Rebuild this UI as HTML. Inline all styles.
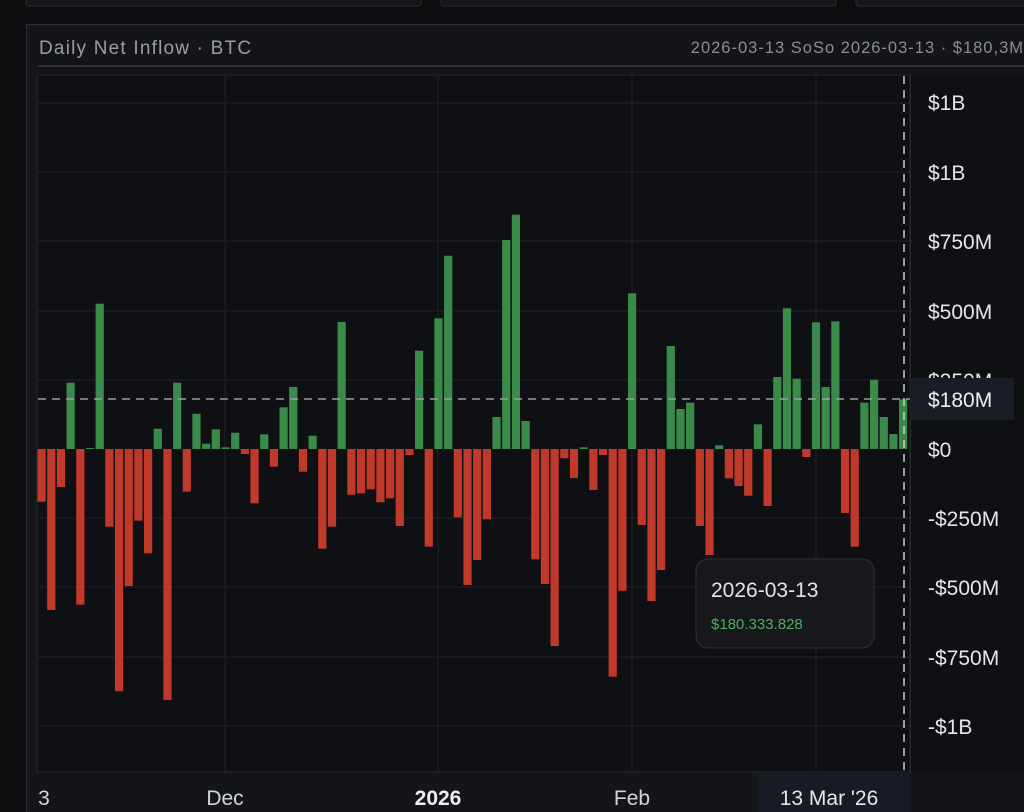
<!DOCTYPE html>
<html><head><meta charset="utf-8"><style>
html,body{margin:0;padding:0;background:#0c0d0f;width:1024px;height:812px;overflow:hidden;font-family:"Liberation Sans",sans-serif}
</style></head><body>
<svg width="1024" height="812" xmlns="http://www.w3.org/2000/svg" font-family="Liberation Sans, sans-serif">
<rect width="1024" height="812" fill="#0c0d0f"/>
<rect x="26" y="-10" width="395" height="16" rx="3" fill="#141619" stroke="#2a2d31"/>
<rect x="441" y="-10" width="395" height="16" rx="3" fill="#141619" stroke="#2a2d31"/>
<rect x="856" y="-10" width="190" height="16" rx="3" fill="#141619" stroke="#2a2d31"/>
<rect x="26.5" y="24.5" width="1010" height="800" fill="#131518" stroke="#2c2f33"/>
<text x="39" y="54" fill="#9a9ea4" font-size="19" letter-spacing="1.2">Daily Net Inflow · BTC</text>
<text x="1024" y="53" fill="#8a8e94" font-size="16.5" letter-spacing="1" text-anchor="end">2026-03-13  SoSo 2026-03-13 · $180,3M</text>
<line x1="38" y1="66" x2="1024" y2="66" stroke="#2c2f33" stroke-width="2"/>
<rect x="37" y="75" width="874" height="697" fill="#0f1013" stroke="#24272b"/>
<rect x="911" y="75" width="113" height="697" fill="#0f1013"/>
<g stroke="#1f2226" stroke-width="1">
<line x1="38" y1="103" x2="910" y2="103"/><line x1="38" y1="172" x2="910" y2="172"/><line x1="38" y1="241" x2="910" y2="241"/><line x1="38" y1="311" x2="910" y2="311"/><line x1="38" y1="380" x2="910" y2="380"/><line x1="38" y1="518" x2="910" y2="518"/><line x1="38" y1="587" x2="910" y2="587"/><line x1="38" y1="657" x2="910" y2="657"/><line x1="38" y1="726" x2="910" y2="726"/>
<line x1="225" y1="76" x2="225" y2="771"/><line x1="438" y1="76" x2="438" y2="771"/><line x1="632" y1="76" x2="632" y2="771"/><line x1="816" y1="76" x2="816" y2="771"/>
</g>
<line x1="910" y1="75" x2="910" y2="772" stroke="#2a2d31"/>
<g id="bars"></g>
<line x1="38" y1="399" x2="910" y2="399" stroke="#9a9ea4" stroke-width="1.5" stroke-dasharray="8,6"/>
<line x1="904" y1="76" x2="904" y2="771" stroke="#c8cbd0" stroke-width="1.5" stroke-dasharray="8,6"/>
<g fill="#e4e6e9" font-size="21">
<text x="928" y="110">$1B</text><text x="928" y="180">$1B</text><text x="928" y="249">$750M</text><text x="928" y="319">$500M</text><text x="928" y="388">$250M</text><text x="928" y="457">$0</text><text x="928" y="526">-$250M</text><text x="928" y="595">-$500M</text><text x="928" y="665">-$750M</text><text x="928" y="734">-$1B</text>
</g>
<rect x="910" y="378" width="104" height="42" fill="#1a1d26"/>
<text x="928" y="407" fill="#eef0f2" font-size="21">$180M</text>
<rect x="696" y="559" width="178" height="89" rx="12" fill="#16181b" stroke="#2e3136"/>
<text x="711" y="597" fill="#e2e4e7" font-size="21">2026-03-13</text>
<text x="711" y="629" fill="#4caf5c" font-size="15">$180.333.828</text>
<rect x="758" y="772" width="152" height="40" fill="#181b24"/>
<g fill="#d2d5d9" font-size="21" text-anchor="middle">
<text x="44" y="805">3</text><text x="225" y="805">Dec</text><text x="438" y="805" font-weight="bold" fill="#eceef0">2026</text><text x="632" y="805">Feb</text><text x="829" y="805" fill="#e4e6e9">13 Mar '26</text>
</g>
</svg>
<script>
var v=[501.7,610,487,382.7,604.7,448,303.7,526.7,691.3,586,520.7,553.3,428.7,700,382.7,491.7,413.7,443.7,429.3,447.3,432.7,454,503.3,434.3,466.7,407.3,387,471.7,435.7,548.7,526.7,322,494.7,493.3,489.3,502.3,498.3,526,455,350.7,546.7,318.3,255.7,517.3,585,560,519.3,417,240,214.7,421,559.3,584,646,458.3,478,447.3,490,455,676.7,590.7,293.3,525,601,570,346,409,402.7,526,555,445.3,478.3,486,495.7,424.3,506,377,308.3,378.7,457,322.3,387,321.3,513,546.7,402.7,379.7,417,434,399.3];
var g=document.getElementById('bars'),s='',Z=449;
for(var i=0;i<v.length;i++){var x=37.5+i*9.68,y=v[i];if(y<Z){s+='<rect x="'+x+'" y="'+y+'" width="8.2" height="'+(Z-y)+'" fill="#3a8a4a"/>';}else{s+='<rect x="'+x+'" y="'+Z+'" width="8.2" height="'+(y-Z)+'" fill="#c0392b"/>';}}
g.innerHTML=s;
</script>
</body></html>
